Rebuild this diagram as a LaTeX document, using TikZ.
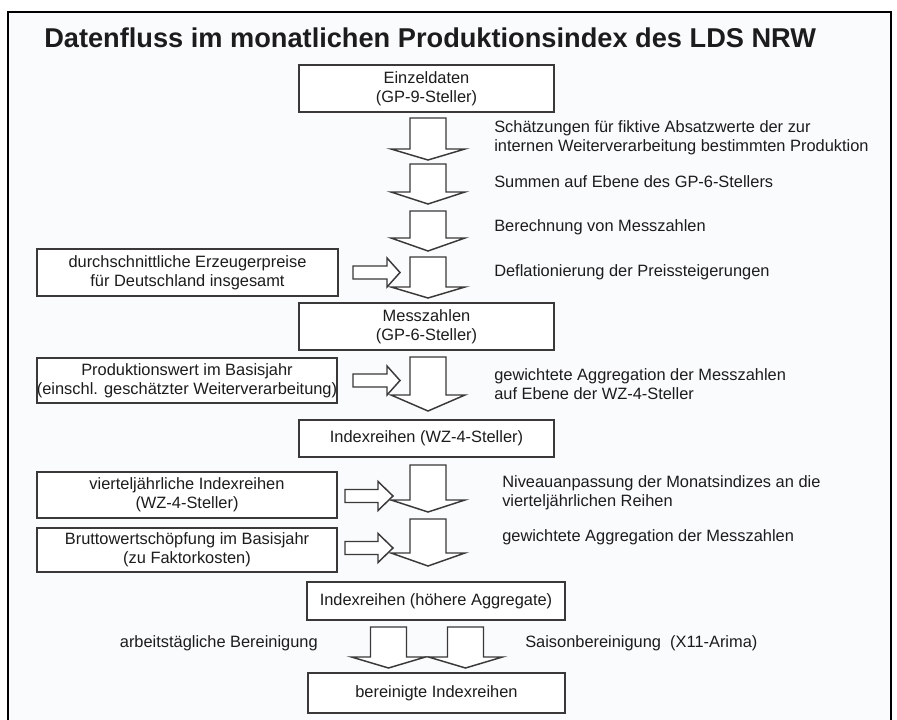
\documentclass[tikz,border=0pt]{standalone}
\usepackage{fontspec}
\setmainfont{Liberation Sans}
\definecolor{txt}{RGB}{28,28,28}
\definecolor{edge}{RGB}{58,56,56}
\definecolor{bg}{RGB}{250,251,253}
\newcommand\blkdown[4]{%
  \draw[blk] ({#1-18},#2) -- ({#1+18},#2) -- ({#1+18},#3) -- ({#1+37},#3) -- (#1,#4) -- ({#1-37},#3) -- ({#1-18},#3) -- cycle;}
\newcommand\blkright[4]{%
  \draw[blk] (#2,{#1-6.5}) -- (#3,{#1-6.5}) -- (#3,{#1-14.5}) -- (#4,#1) -- (#3,{#1+14.5}) -- (#3,{#1+6.5}) -- (#2,{#1+6.5}) -- cycle;}
\begin{document}
\begin{tikzpicture}[x=0.75pt,y=-0.75pt,
  every node/.style={text=txt,font=\fontsize{12.3}{14.3}\selectfont},
  box/.style={draw=edge,line width=1.4pt,fill=white,align=center,inner sep=0pt},
  lbl/.style={inner sep=0pt,align=left,anchor=west},
  blk/.style={draw=edge,line width=1.1pt,fill=white,line join=miter}]
\useasboundingbox (0,0) rectangle (897,720);
\fill[white] (0,0) rectangle (897,720);
\fill[bg] (8,12) rectangle (891,720);
\draw[black,line width=1.6pt] (8,722) -- (8,12) -- (891,12) -- (891,722);
\node[anchor=base west,inner sep=0pt,font=\fontsize{20.4}{24}\selectfont\bfseries] (title) at (44,48) {Datenfluss im monatlichen Produktionsindex des LDS NRW};
% boxes
\node[box,minimum width=255*0.75pt,minimum height=47*0.75pt] (einzel) at (426.5,88.5) {Einzeldaten\\(GP-9-Steller)};
\node[box,minimum width=301*0.75pt,minimum height=47*0.75pt] (preise) at (187.5,272.5) {durchschnittliche Erzeugerpreise\\für Deutschland insgesamt};
\node[box,minimum width=255*0.75pt,minimum height=47*0.75pt] (mess) at (426.5,326.5) {Messzahlen\\(GP-6-Steller)};
\node[box,minimum width=300*0.75pt,minimum height=45*0.75pt] (prodwert) at (187,380.5) {Produktionswert im Basisjahr\\(einschl. geschätzter Weiterverarbeitung)};
\node[box,minimum width=255*0.75pt,minimum height=37*0.75pt] (wz) at (426.5,438.5) {Indexreihen (WZ-4-Steller)};
\node[box,minimum width=300*0.75pt,minimum height=46*0.75pt] (viertel) at (187,495) {vierteljährliche Indexreihen\\(WZ-4-Steller)};
\node[box,minimum width=300*0.75pt,minimum height=44*0.75pt] (brutto) at (187,550) {Bruttowertschöpfung im Basisjahr\\(zu Faktorkosten)};
\node[box,minimum width=258*0.75pt,minimum height=38*0.75pt] (hoeher) at (436,601) {Indexreihen (höhere Aggregate)};
\node[box,minimum width=257*0.75pt,minimum height=40*0.75pt] (bereinigt) at (436.5,693) {bereinigte Indexreihen};
% block arrows
\blkdown{428}{118}{149}{160}
\blkdown{428}{164}{192}{204}
\blkdown{428}{211}{238}{251}
\blkdown{428}{257}{287}{298}
\blkdown{428}{357}{395}{411}
\blkdown{428}{465}{500}{512}
\blkdown{428}{519}{553}{566}
\blkdown{388.5}{627}{657}{668}
\blkdown{465.5}{627}{657}{668}
\blkright{272.5}{353}{387}{400}
\blkright{380.5}{353}{387}{400}
\blkright{496}{345}{378}{393}
\blkright{548}{345}{378}{393}
% labels
\node[lbl] (l1) at (494,138) {Schätzungen für fiktive Absatzwerte der zur\\internen Weiterverarbeitung bestimmten Produktion};
\node[lbl] (l2) at (494,182) {Summen auf Ebene des GP-6-Stellers};
\node[lbl] (l3) at (494,227) {Berechnung von Messzahlen};
\node[lbl] (l4) at (494,272) {Deflationierung der Preissteigerungen};
\node[lbl] (l5) at (494,384) {gewichtete Aggregation der Messzahlen\\auf Ebene der WZ-4-Steller};
\node[lbl] (l6) at (502,492.5) {Niveauanpassung der Monatsindizes an die\\vierteljährlichen Reihen};
\node[lbl] (l7) at (502,537) {gewichtete Aggregation der Messzahlen};
\node[lbl,anchor=east] (l8) at (318,643) {arbeitstägliche Bereinigung};
\node[lbl] (l9) at (525,643) {Saisonbereinigung\ \ (X11-Arima)};
\end{tikzpicture}
\end{document}
